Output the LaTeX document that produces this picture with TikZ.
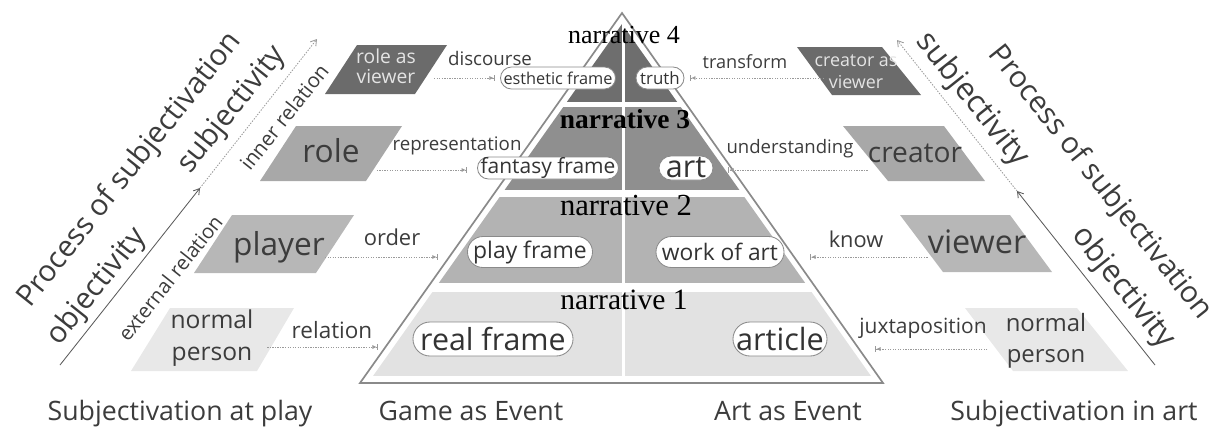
\documentclass[tikz,border=0pt]{standalone}
\usepackage{fontspec}
\setmainfont{Open Sans}
\newfontfamily\narfont{Liberation Serif}
\usetikzlibrary{arrows.meta}

\definecolor{inkgray}{HTML}{333333}
\definecolor{wordgray}{HTML}{3C3C3C}
\definecolor{lightword}{HTML}{E4E4E4}
\definecolor{rimgray}{HTML}{8A8A8A}
\definecolor{linkgray}{HTML}{9A9A9A}
\definecolor{axisgray}{HTML}{5A5A5A}
\definecolor{shadeD}{HTML}{6E6E6E}
\definecolor{shadeC}{HTML}{8F8F8F}
\definecolor{shadeB}{HTML}{B3B3B3}
\definecolor{shadeA}{HTML}{E2E2E2}
\definecolor{darkg}{HTML}{6B6B6B}
\definecolor{roleg}{HTML}{A8A8A8}
\definecolor{playg}{HTML}{B7B7B7}
\definecolor{persong}{HTML}{E8E8E8}

\newcommand\fsz[2]{\fontsize{#1}{#2}\selectfont}

\tikzset{
  word/.style={inner sep=0pt, text=wordgray},
  light/.style={inner sep=0pt, text=lightword},
  tag/.style={draw=rimgray, line width=0.6pt, fill=white, rounded corners=0.5*#1,
    minimum height=#1, inner xsep=1pt, inner ysep=0pt, text=inkgray},
  link/.style={draw=linkgray, line width=0.6pt, dash pattern=on 0.9pt off 0.9pt,
    -{Latex[length=3pt,width=3pt]Bar[width=4pt]}},
  axis/.style={draw=axisgray, line width=0.6pt, -{Straight Barb[length=4pt,width=5pt]}},
  narr/.style={inner sep=0pt, anchor=base, text=black},
}

\begin{document}
\begin{tikzpicture}[x=0.025cm, y=-0.025cm]
\useasboundingbox (0,0) rectangle (1225,430);

% pyramid bands
\begin{scope}
\clip (622,24) -- (871,376) -- (373,376) -- cycle;
\fill[shadeD] (340,0) rectangle (900,102);
\fill[shadeC] (340,107) rectangle (900,190);
\fill[shadeB] (340,197) rectangle (900,283);
\fill[shadeA] (340,292) rectangle (900,376);
\end{scope}
\draw[white, line width=0.075cm] (623,14) -- (623,376);
\draw[rimgray, line width=1.2pt] (622,13) -- (883,383) -- (360,383) -- cycle;

\node (n4) at (624,43)[narr, font=\narfont\fsz{18.5}{22}]{narrative 4};
\node (n3) at (625,128)[narr, font=\narfont\bfseries\fsz{19.5}{23}]{narrative 3};
\node (n2) at (626,215)[narr, font=\narfont\fsz{21.8}{26}]{narrative 2};
\node (n1) at (624,309)[narr, font=\narfont\fsz{21}{25}]{narrative 1};

\node (ef) at (558,78)[tag=0.55cm, minimum width=2.875cm, font=\fsz{11.6}{14}]{esthetic frame};
\node (tr) at (660,78)[tag=0.55cm, minimum width=1.2cm, font=\fsz{12}{14}]{truth};
\node (ff) at (548,168)[tag=0.55cm, minimum width=3.525cm, font=\fsz{14.9}{18}]{fantasy frame};
\node (ar) at (686,168)[tag=0.6cm, minimum width=1.35cm, font=\fsz{21.7}{26}]{art};
\node (pf) at (530,252)[tag=0.775cm, minimum width=3.125cm, font=\fsz{16.3}{20}]{play frame};
\node (wa) at (720,252)[tag=0.775cm, minimum width=3.2cm, font=\fsz{16.2}{20}]{work of art};
\node (rf) at (493,339)[tag=0.85cm, minimum width=4cm, font=\fsz{21.6}{26}]{real frame};
\node (ac) at (780,339)[tag=0.85cm, minimum width=2.35cm, font=\fsz{21.8}{26}]{article};

% play side
\fill[darkg] (357,45) -- (447,45) -- (415,94) -- (325,94) -- cycle;
\fill[roleg] (296,126) -- (402,126) -- (366,181) -- (260,181) -- cycle;
\fill[playg] (232,215) -- (354,215) -- (316,273) -- (194,273) -- cycle;
\fill[persong] (170,308) -- (294,308) -- (257,371) -- (131,371) -- cycle;
\node (rv) at (386,66)[light, align=center, font=\fsz{13.7}{14.2}]{role as\\viewer};
\node (ro) at (331,162)[word, anchor=base, font=\fsz{22.5}{27}]{role};
\node (pl) at (279,255)[word, anchor=base, font=\fsz{22.5}{27}]{player};
\node (np) at (212,338)[word, align=center, font=\fsz{17.5}{22.8}]{normal\\person};

% art side
\fill[darkg] (797,47) -- (882,47) -- (921,95) -- (832,95) -- cycle;
\fill[roleg] (843,126) -- (944,126) -- (985,181) -- (888,181) -- cycle;
\fill[playg] (900,215) -- (1010,215) -- (1052,272) -- (943,272) -- cycle;
\fill[persong] (965,308) -- (1077,308) -- (1128,371) -- (1013,371) -- cycle;
\node (cv) at (856,72)[light, align=center, font=\fsz{12.7}{15.6}]{creator as\\viewer};
\node (cr) at (915,162)[word, anchor=base, font=\fsz{20}{24}]{creator};
\node (vw) at (977,253)[word, anchor=base, font=\fsz{23}{27}]{viewer};
\node (np2) at (1046,341)[word, align=center, font=\fsz{17}{22}]{normal\\person};

% relations
\draw[link, shorten <=0.45cm, shorten >=0.14cm] (rv.east |- ef.west) -- (ef.west);
\draw[link, shorten <=0.425cm, shorten >=0.26cm] ([yshift=-0.05cm]ro.east |- ff.west) -- ([yshift=-0.05cm]ff.west);
\draw[link, shorten >=0.74cm] ([yshift=-0.125cm]pl.east |- pf.west) -- ([yshift=-0.125cm]pf.west);
\draw[link, shorten <=0.34cm, shorten >=0.875cm] ([yshift=-0.2cm]np.east |- rf.west) -- ([yshift=-0.2cm]rf.west);
\draw[link, shorten <=-0.24cm, shorten >=0.15cm] (cv.west |- tr.east) -- (tr.east);
\draw[link, shorten >=0.375cm] ([yshift=-0.05cm]cr.west |- ar.east) -- ([yshift=-0.05cm]ar.east);
\draw[link, shorten >=0.65cm] ([yshift=-0.125cm]vw.west |- wa.east) -- ([yshift=-0.125cm]wa.east);
\draw[link, shorten <=0.45cm, shorten >=1.2cm] ([yshift=-0.25cm]np2.west |- ac.east) -- ([yshift=-0.25cm]ac.east);

\node (dc) at (490,65)[word, anchor=base, font=\fsz{13.3}{16}]{discourse};
\node (rp) at (457,150)[word, anchor=base, font=\fsz{13.3}{16}]{representation};
\node (od) at (392,245)[word, anchor=base, font=\fsz{15.6}{19}]{order};
\node (rl) at (332,338)[word, anchor=base, font=\fsz{16}{19}]{relation};
\node (tf) at (745,68)[word, anchor=base, font=\fsz{12.9}{16}]{transform};
\node (us) at (790,153)[word, anchor=base, font=\fsz{13.2}{16}]{understanding};
\node (kn) at (856,247)[word, anchor=base, font=\fsz{15.5}{19}]{know};
\node (jx) at (923,333)[word, anchor=base, font=\fsz{14.9}{18}]{juxtaposition};

% subjectivation axes
\coordinate (lb) at (60,365);
\coordinate (lm) at (200,188);
\coordinate (lt) at (317,39);
\draw[axis] (lb) -- (lm);
\draw[axis, draw=linkgray, dash pattern=on 1pt off 1pt] (lm) -- (lt);
\coordinate (rb) at (1155,365);
\coordinate (rm) at (1017,191);
\coordinate (rt) at (897,40);
\draw[axis] (rb) -- (rm);
\draw[axis, draw=linkgray, dash pattern=on 1pt off 1pt] (rm) -- (rt);

\node (lpr) at (130,170)[word, rotate=51.5, font=\fsz{21}{25}]{Process of subjectivation};
\node (lsu) at (232,110)[word, rotate=51.5, font=\fsz{21}{25}]{subjectivity};
\node (lob) at (97,287)[word, rotate=51.5, font=\fsz{21}{25}]{objectivity};
\node (lin) at (284,117)[word, rotate=51.5, font=\fsz{14.5}{17}]{inner relation};
\node (lex) at (170,278)[word, rotate=51.5, font=\fsz{14.3}{17}]{external relation};
\node (rsu) at (972,100)[word, rotate=-51.5, font=\fsz{22}{26}]{subjectivity};
\node (rpr) at (1100,183)[word, rotate=-51.5, font=\fsz{21}{25}]{Process of subjectivation};
\node (rob) at (1123,288)[word, rotate=-51.5, font=\fsz{22}{26}]{objectivity};

% captions
\node (sp) at (180,420)[word, anchor=base, font=\fsz{19}{23}]{Subjectivation at play};
\node (ge) at (471,420)[word, anchor=base, font=\fsz{19}{23}]{Game as Event};
\node (ae) at (788,420)[word, anchor=base, font=\fsz{19}{23}]{Art as Event};
\node (sa) at (1074,420)[word, anchor=base, font=\fsz{19}{23}]{Subjectivation in art};
\end{tikzpicture}
\end{document}
